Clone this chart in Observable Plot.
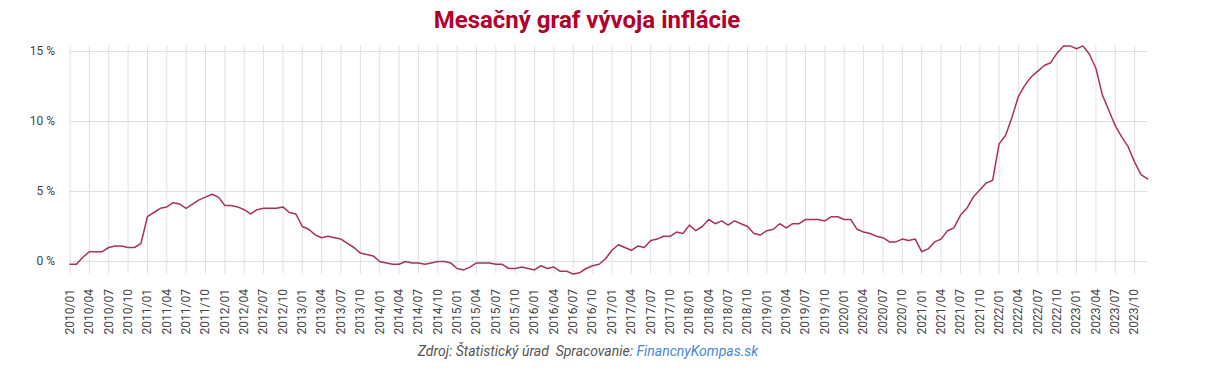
<!DOCTYPE html>
<html>
<head>
<meta charset="utf-8">
<script src="https://cdn.jsdelivr.net/npm/d3@7"></script>
<script src="https://cdn.jsdelivr.net/npm/@observablehq/plot@0.6"></script>
<style>
  body { margin: 0; background: #fff; font-family: Roboto, sans-serif; }
  #wrap { position: relative; width: 1214px; height: 375px; }
  #title { height: 40px; width: 1174px; text-align: center; font-family: Roboto, sans-serif; font-weight: bold; font-size: 24px; line-height: 40px; color: #b0002b; }
  #title span { display: inline-block; }
  #caption { width: 1176px; text-align: center; font-family: Roboto, sans-serif; font-style: italic; font-size: 14px; line-height: 22px; color: #555; }
  #caption .link { color: #4a88cc; }
</style>
</head>
<body>
<div id="wrap">
  <div id="title"><span>Mesačný graf vývoja inflácie</span></div>
  <div id="chart"></div>
  <div id="caption">Zdroj: Štatistický úrad&nbsp; Spracovanie: <span class="link">FinancnyKompas.sk</span></div>
</div>
<script>
const years = [2010, 2011, 2012, 2013, 2014, 2015, 2016, 2017, 2018, 2019, 2020, 2021, 2022, 2023];
const v2010 = [-0.2, -0.2, 0.3, 0.7, 0.7, 0.7, 1.0, 1.1, 1.1, 1.0, 1.0, 1.3];
const v2011 = [3.2, 3.5, 3.8, 3.9, 4.2, 4.1, 3.8, 4.1, 4.4, 4.6, 4.8, 4.6];
const v2012 = [4.0, 4.0, 3.9, 3.7, 3.4, 3.7, 3.8, 3.8, 3.8, 3.9, 3.5, 3.4];
const v2013 = [2.5, 2.3, 1.9, 1.7, 1.8, 1.7, 1.6, 1.3, 1.0, 0.6, 0.5, 0.4];
const v2014 = [0.0, -0.1, -0.2, -0.2, 0.0, -0.1, -0.1, -0.2, -0.1, 0.0, 0.0, -0.1];
const v2015 = [-0.5, -0.6, -0.4, -0.1, -0.1, -0.1, -0.2, -0.2, -0.5, -0.5, -0.4, -0.5];
const v2016 = [-0.6, -0.3, -0.5, -0.4, -0.7, -0.7, -0.9, -0.8, -0.5, -0.3, -0.2, 0.2];
const v2017 = [0.8, 1.2, 1.0, 0.8, 1.1, 1.0, 1.5, 1.6, 1.8, 1.8, 2.1, 2.0];
const v2018 = [2.6, 2.2, 2.5, 3.0, 2.7, 2.9, 2.6, 2.9, 2.7, 2.5, 2.0, 1.9];
const v2019 = [2.2, 2.3, 2.7, 2.4, 2.7, 2.7, 3.0, 3.0, 3.0, 2.9, 3.2, 3.2];
const v2020 = [3.0, 3.0, 2.3, 2.1, 2.0, 1.8, 1.7, 1.4, 1.4, 1.6, 1.5, 1.6];
const v2021 = [0.7, 0.9, 1.4, 1.6, 2.2, 2.4, 3.3, 3.8, 4.6, 5.1, 5.6, 5.8];
const v2022 = [8.4, 9.0, 10.3, 11.8, 12.6, 13.2, 13.6, 14.0, 14.2, 14.9, 15.4, 15.4];
const v2023 = [15.2, 15.4, 14.8, 13.8, 11.9, 10.8, 9.7, 8.9, 8.2, 7.1, 6.2, 5.9];
const monthLabels = ["01", "02", "03", "04", "05", "06", "07", "08", "09", "10", "11", "12"];
const yTicks = [0, 5, 10, 15];

const yearValues = [v2010, v2011, v2012, v2013, v2014, v2015, v2016, v2017, v2018, v2019, v2020, v2021, v2022, v2023];
const data = [];
years.forEach((yr, yi) => {
  yearValues[yi].forEach((v, mi) => data.push({month: `${yr}/${monthLabels[mi]}`, value: v}));
});
const months = data.map(d => d.month);
const xTicks = months.filter((m, i) => i % 3 === 0);

const chart = Plot.plot({
  width: 1214,
  height: 300,
  marginLeft: 69.5,
  marginRight: 67,
  marginTop: 5.4,
  marginBottom: 66.4,
  style: {fontFamily: "Roboto, sans-serif", background: "white"},
  x: {type: "point", domain: months, padding: 0, label: null},
  y: {domain: [-0.9, 15.4], label: null},
  marks: [
    Plot.gridY(yTicks, {stroke: "#e0e0e0", strokeOpacity: 1}),
    Plot.gridX(xTicks, {stroke: "#e0e0e0", strokeOpacity: 1}),
    Plot.axisY(yTicks, {tickSize: 0, tickPadding: 15, tickFormat: d => d + " %", fontSize: 12, fill: "#444", label: null}),
    Plot.axisX(xTicks, {tickSize: 0, tickRotate: -90, tickPadding: 15, fontSize: 12, fill: "#444", label: null}),
    Plot.lineY(data, {x: "month", y: "value", stroke: "#a8325a", strokeWidth: 1.5})
  ]
});
document.getElementById("chart").appendChild(chart);
</script>
</body>
</html>
